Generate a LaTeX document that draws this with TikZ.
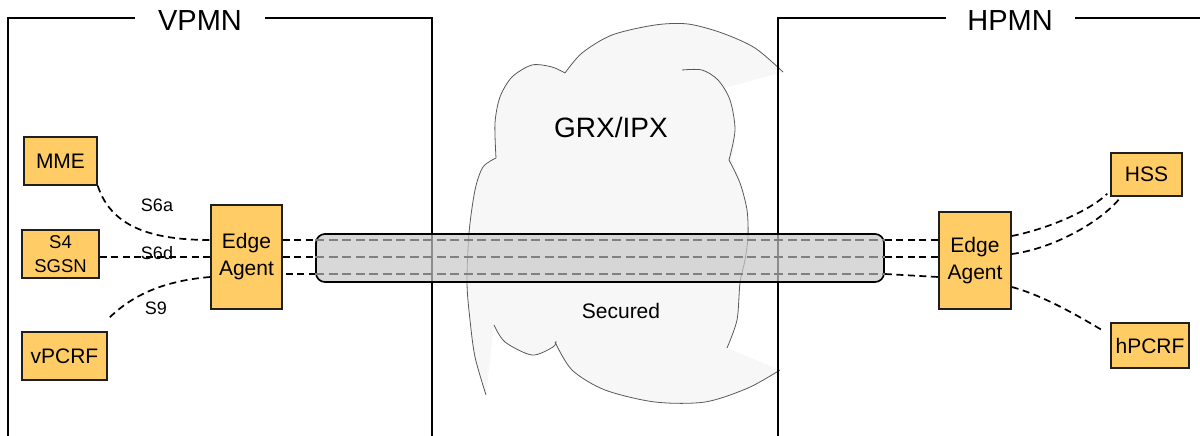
\documentclass[tikz,border=0pt]{standalone}
\usepackage{fontspec}
\setmainfont{Liberation Sans}
\definecolor{boxfill}{RGB}{255,204,102}
\definecolor{cloudfill}{RGB}{247,247,247}
\definecolor{tubefill}{RGB}{200,200,200}
\definecolor{trackgray}{RGB}{128,128,128}
\begin{document}
\begin{tikzpicture}[x=1pt,y=-1pt,
  box/.style={draw=black!88, line width=1.5pt, fill=boxfill, inner sep=0pt, align=center,
    font=\fontsize{21}{27}\selectfont},
  link/.style={draw=black, line width=1.7pt, dash pattern=on 7pt off 4.5pt},
  track/.style={draw=trackgray, line width=1.7pt, dash pattern=on 9pt off 4.5pt},
  lbl/.style={inner sep=0pt, font=\fontsize{18}{20}\selectfont},
  title/.style={inner sep=0pt, font=\fontsize{29}{32}\selectfont},
  frame/.style={draw=black, line width=1.7pt},
  cloudline/.style={draw=black!65, line width=0.8pt},
  tubestyle/.style={draw=black, line width=1.7pt, fill=tubefill, fill opacity=0.7,
    rounded corners=9pt, inner sep=0pt}
]
\useasboundingbox (0,0) rectangle (1200,436);

% cloud fill
\fill[cloudfill]
  plot[smooth] coordinates {(565,73) (582,53) (612,35) (655,25) (688,24) (722,33) (755,48) (783,72)}
  -- plot[smooth] coordinates {(725,88) (730,100) (735,130) (732,160)}
  -- plot[smooth] coordinates {(732,160) (740,183) (747,210) (748,237) (745,260) (740,283) (737,320) (727,348)}
  -- plot[smooth] coordinates {(780,370) (748,388) (705,402) (655,402) (605,390) (572,370) (555,345)}
  -- plot[smooth] coordinates {(555,345) (532,355) (505,342) (494,325)}
  -- (486,395)
  -- plot[smooth] coordinates {(486,395) (475,357) (470,320) (467,283) (469,233) (475,190) (483,167) (496,158)}
  -- plot[smooth] coordinates {(496,158) (495,123) (500,97) (512,77) (532,65) (552,67) (565,73)} -- cycle;
% cloud outline
\draw[cloudline] plot[smooth] coordinates {(565,73) (582,53) (612,35) (655,25) (688,24) (722,33) (755,48) (783,72)};
\draw[cloudline] plot[smooth] coordinates {(565,73) (552,67) (532,65) (512,77) (500,97) (495,123) (496,158)};
\draw[cloudline] plot[smooth] coordinates {(496,158) (483,167) (475,190) (469,233) (467,283) (470,320) (475,357) (486,395)};
\draw[cloudline] plot[smooth] coordinates {(494,325) (505,342) (532,355) (553,347) (556,341)};
\draw[cloudline] plot[smooth] coordinates {(555,342) (572,370) (605,390) (655,402) (705,402) (748,388) (780,370)};
\draw[cloudline] plot[smooth] coordinates {(682,70) (702,70) (718,80) (730,100) (735,130) (729,160)};
\draw[cloudline] plot[smooth] coordinates {(729,160) (740,183) (747,210) (748,237) (745,260) (740,283) (737,320) (727,348)};

% frames
\draw[frame] (135,18) -- (8,18) -- (8,440);
\draw[frame] (265,18) -- (432,18) -- (432,440);
\draw[frame] (946,18) -- (778,18) -- (778,440);
\draw[frame] (1075,18) -- (1205,18);
\node[title] (vpmn) at (200,21) {VPMN};
\node[title] (hpmn) at (1010,21) {HPMN};

\node[inner sep=0pt, font=\fontsize{28}{30}\selectfont] (grx) at (611,127) {GRX/IPX};
\node[inner sep=0pt, font=\fontsize{21}{24}\selectfont] (sec) at (621,311) {Secured};

% tube
\node[tubestyle, minimum width=568pt, minimum height=48pt] (tube) at (600,258) {};
\coordinate (t1) at (300,240);
\coordinate (t2) at (300,257);
\coordinate (t3) at (300,274);
\draw[track] (tube.west |- t1) -- (tube.east |- t1);
\draw[track] (tube.west |- t2) -- (tube.east |- t2);
\draw[track] (tube.west |- t3) -- (tube.east |- t3);

% boxes
\node[box, minimum width=73pt, minimum height=48pt] (mme) at (60.5,161) {MME};
\node[box, minimum width=77pt, minimum height=48pt, font=\fontsize{18.5}{24}\selectfont] (sgsn) at (60.5,254) {S4\\SGSN};
\node[box, minimum width=85pt, minimum height=48pt] (vpcrf) at (64.5,356) {vPCRF};
\node[box, minimum width=71pt, minimum height=104pt] (eaL) at (246.5,257) {Edge\\Agent};
\node[box, minimum width=72pt, minimum height=97pt] (eaR) at (975,260.5) {Edge\\Agent};
\node[box, minimum width=71pt, minimum height=43pt] (hss) at (1146.5,174.5) {HSS};
\node[box, minimum width=78pt, minimum height=45pt] (hpcrf) at (1150,345.5) {hPCRF};

% helper points
\coordinate (s9a) at ([yshift=-20pt]eaL.west);
\coordinate (s9b) at ([yshift=12pt]vpcrf.north east);
\coordinate (t3r) at ([yshift=-16.5pt]eaR.west);
\coordinate (h1) at ([yshift=24.5pt]eaR.east);
\coordinate (h2) at ([yshift=6.5pt]eaR.east);
\coordinate (h3) at ([yshift=-26.5pt]eaR.east);
\coordinate (e1) at ([xshift=-3pt,yshift=3pt]hss.south west);
\coordinate (e2) at ([xshift=10pt,yshift=-1pt]hss.south west);
\coordinate (e3) at ([xshift=-8pt,yshift=-8pt]hpcrf.north west);

% left links
\draw[link] (mme.south east) .. controls +(13,40) and +(-61,0) .. (eaL.west |- t1);
\draw[link] (sgsn.east |- t2) -- (eaL.west |- t2);
\draw[link] (s9a) .. controls +(-50,4) and +(22,-22) .. (s9b);
\draw[link] (eaL.east |- t1) -- (tube.west |- t1);
\draw[link] (eaL.east |- t2) -- (tube.west |- t2);
\draw[link] ([xshift=3pt]eaL.east |- t3) -- (tube.west |- t3);
% right links
\draw[link] (tube.east |- t1) -- (eaR.west |- t1);
\draw[link] (tube.east |- t2) -- (eaR.west |- t2);
\draw[link] (tube.east |- t3) -- (t3r);
\draw[link] (h1) .. controls +(40,-8) and +(-15,15) .. (e1);
\draw[link] (h2) .. controls +(40,-5) and +(-20,25) .. (e2);
\draw[link] (h3) .. controls +(30,8) and +(-25,-15) .. (e3);

% labels
\node[lbl] (s6a) at (157,205) {S6a};
\node[lbl] (s6d) at (157,253) {S6d};
\node[lbl] (s9) at (156,308) {S9};
\end{tikzpicture}
\end{document}
